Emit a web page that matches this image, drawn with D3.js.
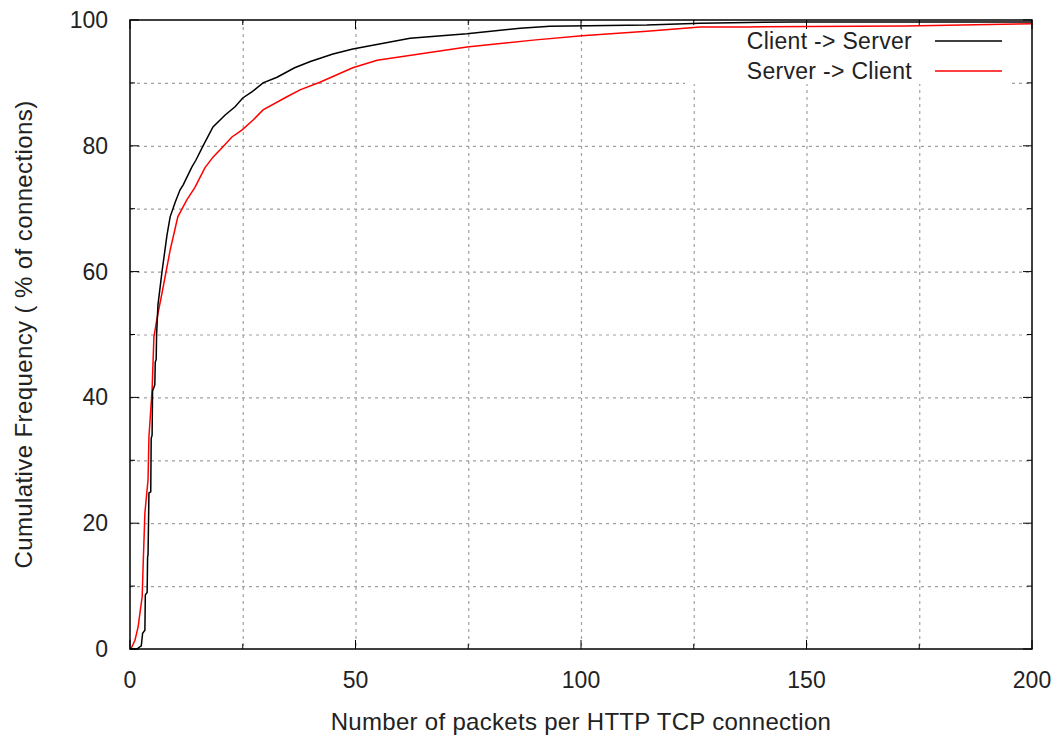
<!DOCTYPE html>
<html>
<head>
<meta charset="utf-8">
<script src="https://cdn.jsdelivr.net/npm/d3@7"></script>
<style>
  body { margin: 0; background: #fff; }
  text { font-family: "Liberation Sans", Arial, sans-serif; fill: #222; }
</style>
</head>
<body>
<div id="chart"></div>
<script>
// Values (packets, cumulative %).
var clientX = [0, 1.5, 2.5, 2.8, 3.3, 3.4, 3.8, 3.9, 4.0, 4.2, 4.6, 4.7, 4.9, 5.0, 5.5, 5.6, 5.8, 5.9, 6.2, 7.1, 8.2, 8.9, 10, 11.1, 11.8, 13.7, 14.6, 16.2, 18.4, 21.1, 23.3, 25, 27.1, 29.5, 32.6, 36.5, 40, 45, 49.4, 62.1, 74.7, 86.5, 93.1, 114.6, 126.4, 147, 200];
var clientY = [0, 0, 0.5, 2.5, 3, 8.6, 9, 14.6, 15, 24.8, 25, 33.5, 34, 41, 42, 45.6, 46, 50, 54.7, 60, 65.8, 68.7, 71, 73, 73.8, 76.6, 77.7, 80, 83, 84.9, 86.2, 87.6, 88.6, 90, 90.9, 92.4, 93.4, 94.6, 95.4, 97.1, 97.8, 98.7, 99.0, 99.2, 99.5, 99.7, 99.7];

var serverX = [0, 0.4, 1.1, 1.8, 2.2, 2.7, 2.9, 3.3, 4.0, 4.2, 4.9, 5.3, 6.0, 7.1, 8.9, 10.6, 12.6, 14.4, 16.6, 18.4, 20.4, 22.6, 24.8, 27.3, 29.5, 34.8, 37.7, 42.1, 49.4, 54.8, 74.7, 89.4, 100.2, 114.6, 126.4, 137, 172, 200];
var serverY = [0, 0.3, 1.4, 3.5, 5.7, 8.3, 13, 21.6, 26.9, 33.7, 41.2, 49.6, 52.6, 56.6, 63.4, 68.7, 71.4, 73.4, 76.5, 78.2, 79.7, 81.4, 82.5, 84.1, 85.7, 87.8, 88.9, 90.1, 92.4, 93.6, 95.7, 96.8, 97.5, 98.2, 98.9, 98.9, 99.05, 99.4];

var seriesNames = ["Client -> Server", "Server -> Client"];
var seriesColors = ["#000000", "#ff0000"];

var xTicks = [0, 50, 100, 150, 200];
var xMinorTicks = [25, 75, 125, 175];
var yTicks = [0, 20, 40, 60, 80, 100];
var yMinorTicks = [10, 30, 50, 70, 90];

var xTitle = "Number of packets per HTTP TCP connection";
var yTitle = "Cumulative Frequency ( % of connections)";

(function() {
  var W = 1059, H = 740;
  var margin = {top: 20, right: 27, bottom: 91, left: 130},
      width = W - margin.left - margin.right,
      height = H - margin.top - margin.bottom;

  var svg = d3.select("#chart")
    .append("svg")
      .attr("width", W)
      .attr("height", H);

  var g = svg.append("g")
    .attr("transform", "translate(" + margin.left + "," + margin.top + ")");

  var x = d3.scaleLinear().domain([0, 200]).range([0, width]);
  var y = d3.scaleLinear().domain([0, 100]).range([height, 0]);

  // grid, at major and minor ticks
  var gridX = xTicks.concat(xMinorTicks).filter(function(d) { return d > 0 && d < 200; });
  var gridY = yTicks.concat(yMinorTicks).filter(function(d) { return d > 0 && d < 100; });

  g.selectAll(".gx").data(gridX).enter().append("line")
    .attr("x1", function(d) { return x(d) + 0.5; })
    .attr("x2", function(d) { return x(d) + 0.5; })
    .attr("y1", 0).attr("y2", height)
    .attr("stroke", "#a0a0a0").attr("stroke-width", 1.2)
    .attr("stroke-dasharray", "3,4");

  g.selectAll(".gy").data(gridY).enter().append("line")
    .attr("y1", function(d) { return y(d) + 0.5; })
    .attr("y2", function(d) { return y(d) + 0.5; })
    .attr("x1", 0).attr("x2", width)
    .attr("stroke", "#a0a0a0").attr("stroke-width", 1.2)
    .attr("stroke-dasharray", "3,4");

  // the key blanks out the grid behind it
  g.append("rect")
    .attr("x", 555).attr("y", 1)
    .attr("width", 327).attr("height", 63)
    .attr("fill", "#fff");

  // ticks on all four sides, pointing inward
  function ticks(vals, len) {
    vals.forEach(function(v) {
      g.append("line").attr("x1", x(v)).attr("x2", x(v)).attr("y1", height).attr("y2", height - len)
        .attr("stroke", "#000");
      g.append("line").attr("x1", x(v)).attr("x2", x(v)).attr("y1", 0).attr("y2", len)
        .attr("stroke", "#000");
    });
  }
  function yticks(vals, len) {
    vals.forEach(function(v) {
      g.append("line").attr("y1", y(v)).attr("y2", y(v)).attr("x1", 0).attr("x2", len)
        .attr("stroke", "#000");
      g.append("line").attr("y1", y(v)).attr("y2", y(v)).attr("x1", width).attr("x2", width - len)
        .attr("stroke", "#000");
    });
  }
  ticks(xTicks, 9);
  ticks(xMinorTicks, 5);
  yticks(yTicks, 9);
  yticks(yMinorTicks, 5);

  // tick labels
  g.selectAll(".xl").data(xTicks).enter().append("text")
    .attr("x", function(d) { return x(d); })
    .attr("y", height + 39)
    .attr("text-anchor", "middle")
    .style("font-size", "23px")
    .text(function(d) { return d; });

  g.selectAll(".yl").data(yTicks).enter().append("text")
    .attr("x", -22)
    .attr("y", function(d) { return y(d) + 8; })
    .attr("text-anchor", "end")
    .style("font-size", "23px")
    .text(function(d) { return d; });

  // axis titles
  svg.append("text")
    .attr("x", margin.left + width / 2)
    .attr("y", 730)
    .attr("text-anchor", "middle")
    .style("font-size", "24px")
    .style("letter-spacing", "0.3px")
    .text(xTitle);

  svg.append("text")
    .attr("transform", "translate(32," + (margin.top + height / 2) + ") rotate(-90)")
    .attr("text-anchor", "middle")
    .style("font-size", "24px")
    .style("letter-spacing", "0.4px")
    .text(yTitle);

  // the lines
  var series = [
    d3.zip(clientX, clientY),
    d3.zip(serverX, serverY)
  ];

  var line = d3.line()
    .x(function(d) { return x(d[0]); })
    .y(function(d) { return y(d[1]); });

  for (var i = series.length - 1; i >= 0; i--) {
    g.append("path")
      .datum(series[i])
      .attr("fill", "none")
      .attr("stroke", seriesColors[i])
      .attr("stroke-width", 1.5)
      .attr("d", line);
  }

  // frame
  g.append("rect")
    .attr("x", 0).attr("y", 0)
    .attr("width", width).attr("height", height)
    .attr("fill", "none")
    .attr("stroke", "#000")
    .attr("stroke-width", 1.5);

  // key
  seriesNames.forEach(function(name, i) {
    var ky = 21 + i * 30;
    g.append("text")
      .attr("x", 782)
      .attr("y", ky + 8)
      .attr("text-anchor", "end")
      .style("font-size", "23px")
      .style("letter-spacing", "0.3px")
      .text(name);
    g.append("line")
      .attr("x1", 805).attr("x2", 872)
      .attr("y1", ky).attr("y2", ky)
      .attr("stroke", seriesColors[i])
      .attr("stroke-width", 1.5);
  });
})();
</script>
</body>
</html>
